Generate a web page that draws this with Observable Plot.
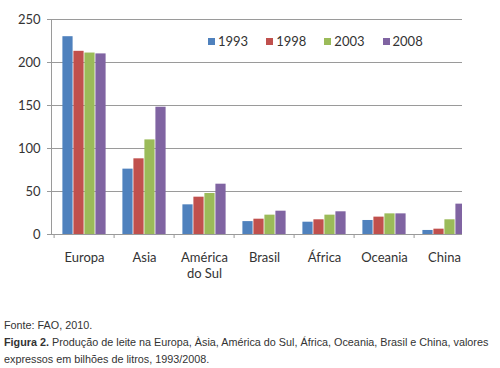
<!DOCTYPE html>
<html><head><meta charset="utf-8">
<script src="https://cdn.jsdelivr.net/npm/d3@7"></script>
<script src="https://cdn.jsdelivr.net/npm/@observablehq/plot@0.6"></script>
<style>
body{margin:0;background:#fff;width:500px;height:368px;overflow:hidden;position:relative;font-family:Lato,sans-serif}
#legend{position:absolute;top:33px;left:208px;display:flex;font-size:13px;color:#333;font-family:Lato,sans-serif}
#legend span.item{display:flex;align-items:center;margin-right:18px}
#legend span.sw{display:inline-block;width:7px;height:7px;margin-right:3px}
#caption{position:absolute;top:317px;left:4px;font-family:"Liberation Sans",Arial,sans-serif;font-size:10.8px;line-height:17px;color:#333;white-space:nowrap}
</style></head><body>
<div id="chart"></div>
<div id="legend"></div>
<div id="caption">Fonte: FAO, 2010.<br><b>Figura 2.</b> Produção de leite na Europa, Àsia, América do Sul, África, Oceania, Brasil e China, valores<br>expressos em bilhões de litros, 1993/2008.</div>
<script>
const regions = ["Europa","Asia","América do Sul","Brasil","África","Oceania","China"];
const regionLabels = ["Europa","Asia","América\ndo Sul","Brasil","África","Oceania","China"];
const years = ["1993","1998","2003","2008"];
const v1993 = [230,76,34.5,15,14.3,16.3,4.7];
const v1998 = [213,88,43.4,17.8,17.1,20.2,6.2];
const v2003 = [211,110,47.7,22.5,22.5,24,17.1];
const v2008 = [210,148,58.5,27.1,26.4,24,35.3];
const series = [v1993, v1998, v2003, v2008];
const colors = ["#4F81BD","#C0504D","#9BBB59","#8064A2"];
const yTicks = [0,50,100,150,200,250];

const band = 60.8, barW = 11, pad = (band - barW*4)/2;
const bars = series.map((vals, i) => Plot.barY(regions, {
  x: d => d, y: (d, j) => vals[j], fill: colors[i],
  insetLeft: pad + barW*i, insetRight: band - pad - barW*(i+1), clip: "frame"
}));

const chart = Plot.plot({
  width: 500, height: 300,
  marginLeft: 51, marginRight: 38, marginTop: 19, marginBottom: 66,
  style: {fontFamily: "Lato, sans-serif", background: "#fff"},
  x: {domain: regions, range: [51, 51 + band*7], padding: 0, axis: null},
  y: {domain: [0, 250], axis: null},
  marks: [
    Plot.gridY(yTicks, {stroke: "#9a9a9a", strokeOpacity: 1}),
    ...bars,
    Plot.frame({anchor: "left", stroke: "#9a9a9a"}),
    Plot.ruleY([0], {stroke: "#9a9a9a"}),
    Plot.axisY({ticks: yTicks, tickSize: 4, tickPadding: 7, fontSize: 13, stroke: "#9a9a9a", fill: "#333"}),
    Plot.axisX({tickSize: 4, dx: -band/2, stroke: "#9a9a9a", tickFormat: () => ""}),
    Plot.axisX({tickSize: 0, tickPadding: 15, fontSize: 13, fill: "#333", lineHeight: 1.3,
      tickFormat: d => regionLabels[regions.indexOf(d)]})
  ]
});
document.getElementById("chart").append(chart);

const legend = document.getElementById("legend");
years.forEach((y, i) => {
  const it = document.createElement("span"); it.className = "item";
  const sw = document.createElement("span"); sw.className = "sw"; sw.style.background = colors[i];
  it.append(sw, document.createTextNode(y));
  legend.append(it);
});
</script>
</body></html>
